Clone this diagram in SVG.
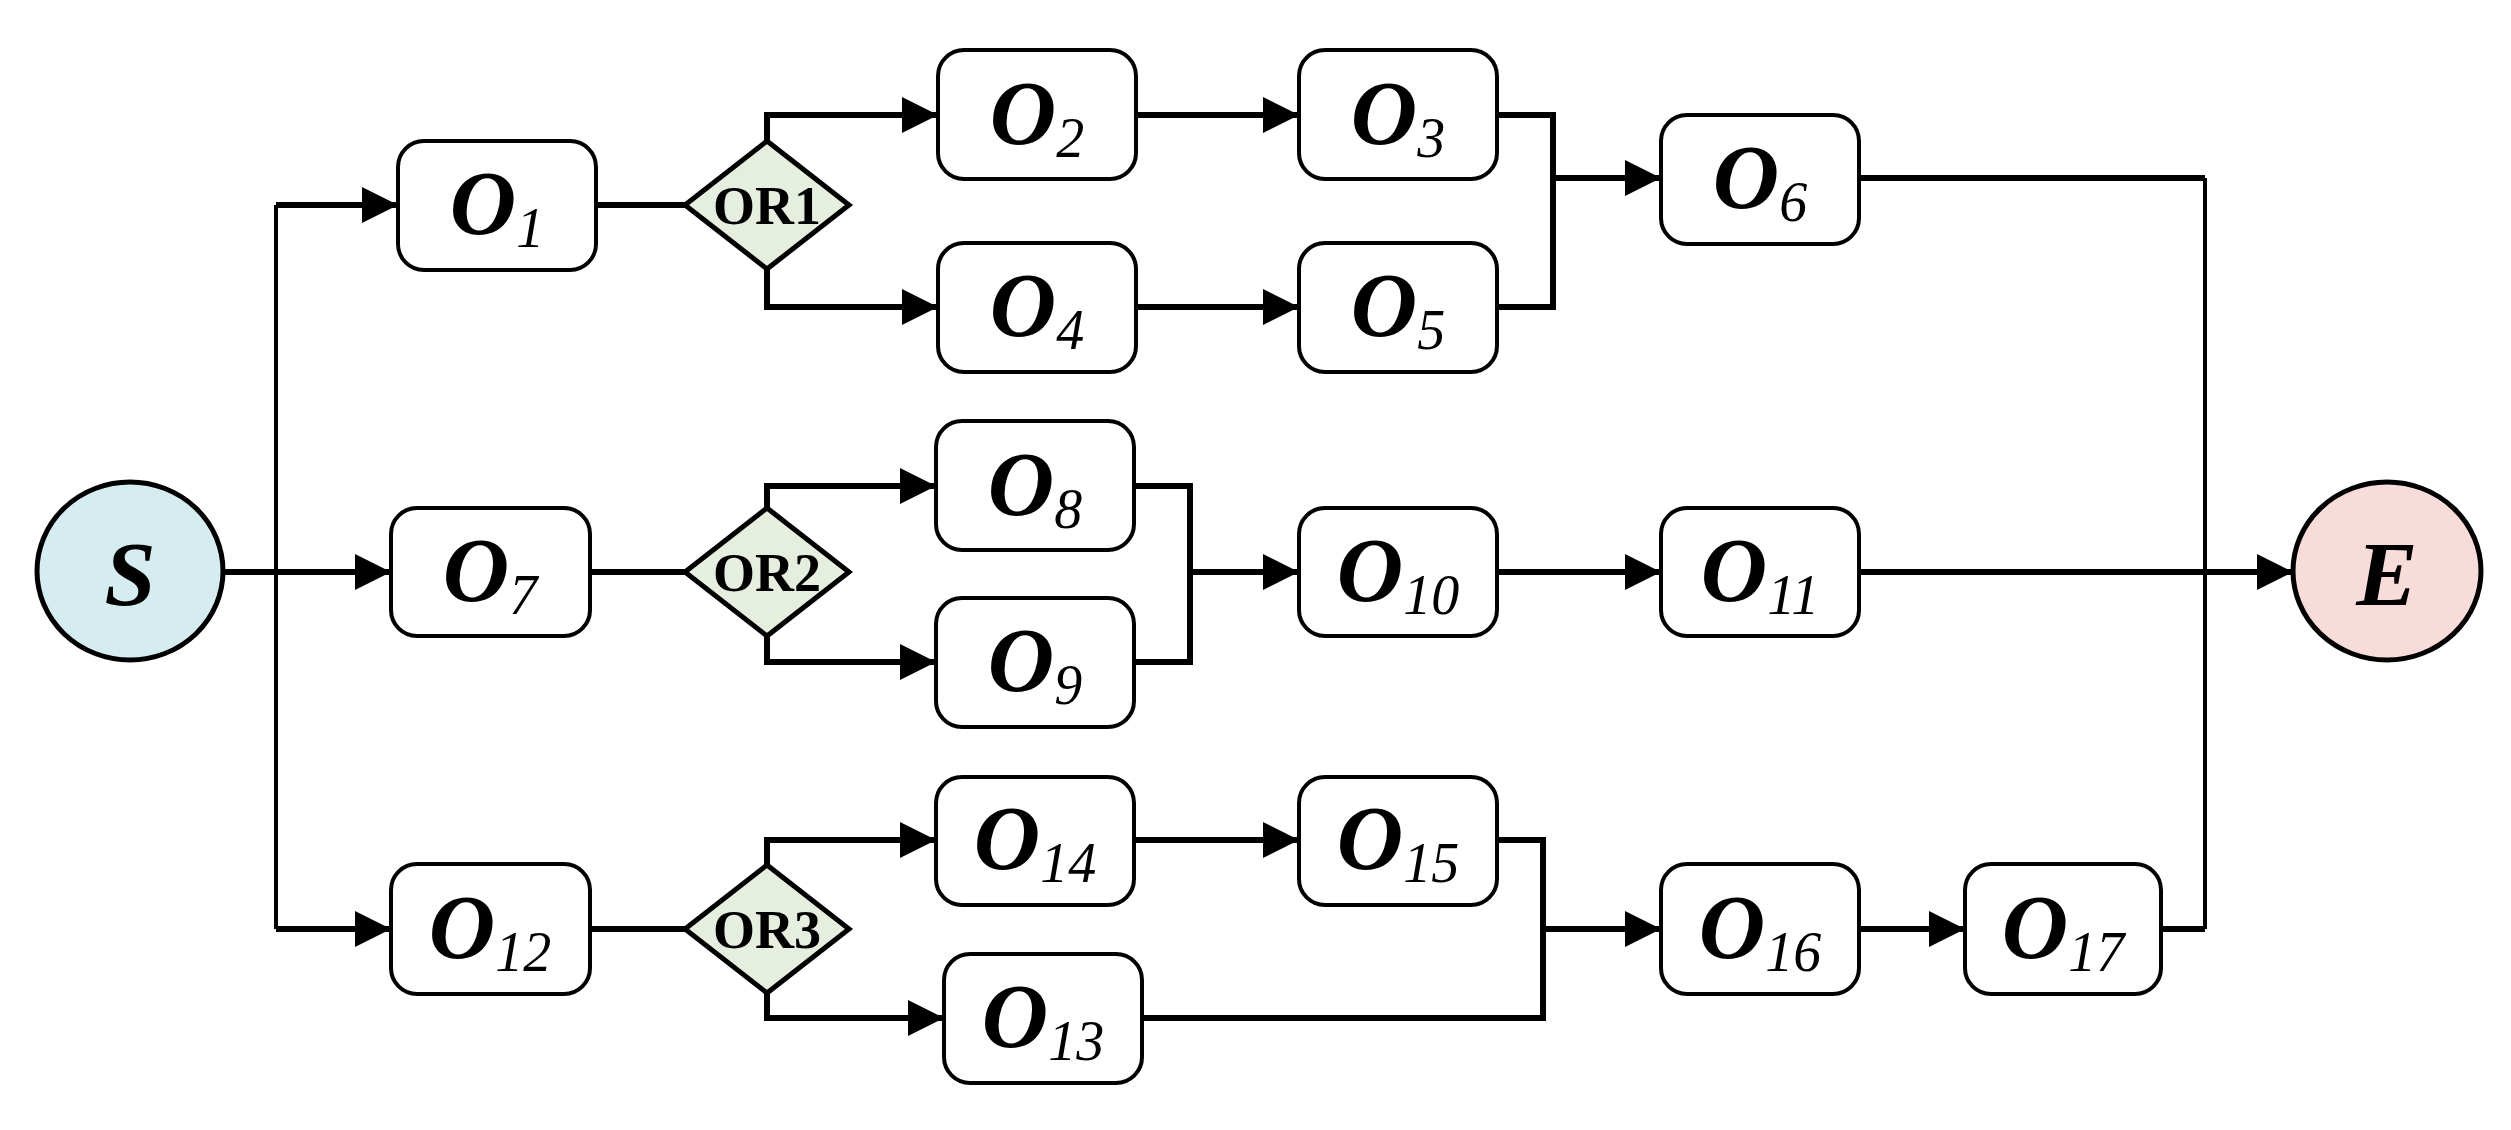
<svg xmlns="http://www.w3.org/2000/svg" width="2511" height="1130" viewBox="0 0 2511 1130">
<style>
.b{fill:#fff;stroke:#000;stroke-width:4}
.d{fill:#e6efdf;stroke:#000;stroke-width:5}
.t{font-family:"Liberation Serif",serif;font-style:italic;font-size:92px;font-weight:bold;text-anchor:middle}
.s{font-size:56px;font-weight:normal}
.g{font-family:"Liberation Serif",serif;font-weight:bold;font-size:54px;text-anchor:middle}
.c{fill:none;stroke:#000;stroke-width:6}
.v{fill:none;stroke:#000;stroke-width:4}
</style>
<defs>
<marker id="a" markerUnits="userSpaceOnUse" markerWidth="36" markerHeight="36" refX="36" refY="18" orient="auto"><path d="M0,0 L36,18 L0,36 Z"/></marker>
</defs>
<g id="connectors">
<path class="c" d="M224,572 H276"/>
<path class="v" d="M276,205 V929"/>
<path class="c" d="M276,205 H398" marker-end="url(#a)"/>
<path class="c" d="M276,572 H391" marker-end="url(#a)"/>
<path class="c" d="M276,929 H391" marker-end="url(#a)"/>
<path class="c" d="M596,205 H686"/>
<path class="c" d="M590,572 H686"/>
<path class="c" d="M590,929 H686"/>
<path class="c" d="M767,141 V115 H938" marker-end="url(#a)"/>
<path class="c" d="M767,269 V307 H938" marker-end="url(#a)"/>
<path class="c" d="M767,508 V486 H936" marker-end="url(#a)"/>
<path class="c" d="M767,636 V662 H936" marker-end="url(#a)"/>
<path class="c" d="M767,865 V840 H936" marker-end="url(#a)"/>
<path class="c" d="M767,993 V1018 H944" marker-end="url(#a)"/>
<path class="c" d="M1136,115 H1299" marker-end="url(#a)"/>
<path class="c" d="M1136,307 H1299" marker-end="url(#a)"/>
<path class="c" d="M1497,115 H1553 V307 H1497"/>
<path class="c" d="M1553,178 H1661" marker-end="url(#a)"/>
<path class="c" d="M1134,486 H1190 V662 H1134"/>
<path class="c" d="M1190,572 H1299" marker-end="url(#a)"/>
<path class="c" d="M1497,572 H1661" marker-end="url(#a)"/>
<path class="c" d="M1859,572 H2293" marker-end="url(#a)"/>
<path class="c" d="M1859,178 H2205"/>
<path class="v" d="M2205,178 V929"/>
<path class="c" d="M2161,929 H2205"/>
<path class="c" d="M1134,840 H1299" marker-end="url(#a)"/>
<path class="c" d="M1497,840 H1543 V1018 H1142"/>
<path class="c" d="M1543,929 H1661" marker-end="url(#a)"/>
<path class="c" d="M1859,929 H1965" marker-end="url(#a)"/>
</g>
<g id="S"><ellipse cx="130" cy="571" rx="93" ry="89" fill="#d5ecf1" stroke="#000" stroke-width="5"/><text class="t" x="130" y="605" font-size="100">S</text></g>
<g id="E"><ellipse cx="2387" cy="571" rx="94" ry="89" fill="#f8dcd9" stroke="#000" stroke-width="5"/><text class="t" x="2387" y="605">E</text></g>
<g id="OR1"><path class="d" d="M767,141 L849,205 L767,269 L685,205 Z"/><text class="g" x="767" y="224">OR1</text></g>
<g id="OR2"><path class="d" d="M767,508 L849,572 L767,636 L685,572 Z"/><text class="g" x="767" y="591">OR2</text></g>
<g id="OR3"><path class="d" d="M767,865 L849,929 L767,993 L685,929 Z"/><text class="g" x="767" y="948">OR3</text></g>
<g id="O1"><rect class="b" x="398" y="141" width="198" height="129" rx="26"/><text class="t" x="497" y="234">O<tspan class="s" dy="13">1</tspan></text></g>
<g id="O2"><rect class="b" x="938" y="50" width="198" height="129" rx="26"/><text class="t" x="1037" y="144">O<tspan class="s" dy="13">2</tspan></text></g>
<g id="O3"><rect class="b" x="1299" y="50" width="198" height="129" rx="26"/><text class="t" x="1398" y="144">O<tspan class="s" dy="13">3</tspan></text></g>
<g id="O4"><rect class="b" x="938" y="243" width="198" height="129" rx="26"/><text class="t" x="1037" y="336">O<tspan class="s" dy="13">4</tspan></text></g>
<g id="O5"><rect class="b" x="1299" y="243" width="198" height="129" rx="26"/><text class="t" x="1398" y="336">O<tspan class="s" dy="13">5</tspan></text></g>
<g id="O6"><rect class="b" x="1661" y="115" width="198" height="129" rx="26"/><text class="t" x="1760" y="208">O<tspan class="s" dy="13">6</tspan></text></g>
<g id="O7"><rect class="b" x="391" y="508" width="199" height="128" rx="26"/><text class="t" x="490" y="601">O<tspan class="s" dy="13">7</tspan></text></g>
<g id="O8"><rect class="b" x="936" y="421" width="198" height="129" rx="26"/><text class="t" x="1035" y="515">O<tspan class="s" dy="13">8</tspan></text></g>
<g id="O9"><rect class="b" x="936" y="598" width="198" height="129" rx="26"/><text class="t" x="1035" y="691">O<tspan class="s" dy="13">9</tspan></text></g>
<g id="O10"><rect class="b" x="1299" y="508" width="198" height="128" rx="26"/><text class="t" x="1398" y="601">O<tspan class="s" dy="13">10</tspan></text></g>
<g id="O11"><rect class="b" x="1661" y="508" width="198" height="128" rx="26"/><text class="t" x="1760" y="601">O<tspan class="s" dy="13">11</tspan></text></g>
<g id="O12"><rect class="b" x="391" y="864" width="199" height="130" rx="26"/><text class="t" x="490" y="958">O<tspan class="s" dy="13">12</tspan></text></g>
<g id="O13"><rect class="b" x="944" y="954" width="198" height="129" rx="26"/><text class="t" x="1043" y="1047">O<tspan class="s" dy="13">13</tspan></text></g>
<g id="O14"><rect class="b" x="936" y="777" width="198" height="128" rx="26"/><text class="t" x="1035" y="869">O<tspan class="s" dy="13">14</tspan></text></g>
<g id="O15"><rect class="b" x="1299" y="777" width="198" height="128" rx="26"/><text class="t" x="1398" y="869">O<tspan class="s" dy="13">15</tspan></text></g>
<g id="O16"><rect class="b" x="1661" y="864" width="198" height="130" rx="26"/><text class="t" x="1760" y="958">O<tspan class="s" dy="13">16</tspan></text></g>
<g id="O17"><rect class="b" x="1965" y="864" width="196" height="130" rx="26"/><text class="t" x="2063" y="958">O<tspan class="s" dy="13">17</tspan></text></g>
</svg>
